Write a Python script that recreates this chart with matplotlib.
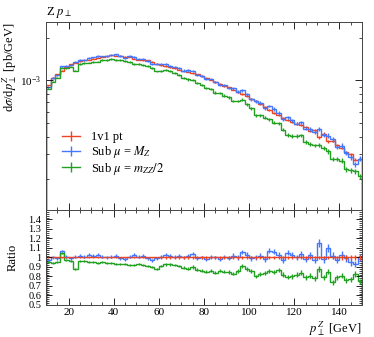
import numpy as np
import matplotlib.pyplot as plt
from matplotlib.ticker import MultipleLocator, LogLocator, NullFormatter, FixedLocator, FixedFormatter
from matplotlib.lines import Line2D

plt.rcParams['font.family'] = ['Liberation Serif', 'DejaVu Serif']
plt.rcParams['mathtext.fontset'] = 'stix'
plt.rcParams['font.size'] = 9

# binning: 2 GeV bins from 10 to 150 GeV
bin_edges = np.arange(10, 152, 2)
bin_centers = 0.5 * (bin_edges[:-1] + bin_edges[1:])

# 1v1 pt, dsigma/dpT in units of 1e-3 pb/GeV
ref_vals = [0.92, 1.04, 1.10, 1.17, 1.25, 1.30, 1.33, 1.36, 1.38, 1.40,
            1.42, 1.44, 1.46, 1.48, 1.50, 1.49, 1.49, 1.47, 1.46, 1.42,
            1.40, 1.39, 1.38, 1.35, 1.31, 1.28, 1.26, 1.24, 1.22, 1.19,
            1.17, 1.15, 1.12, 1.10, 1.07, 1.04, 1.01, 0.975, 0.945, 0.915,
            0.89, 0.86, 0.83, 0.80, 0.77, 0.74, 0.71, 0.68, 0.645, 0.615,
            0.59, 0.57, 0.545, 0.52, 0.505, 0.495, 0.485, 0.465, 0.44, 0.445,
            0.395, 0.42, 0.37, 0.375, 0.35, 0.335, 0.31, 0.30, 0.275, 0.28]

# ratios to 1v1 pt
ratio_mz = [0.97, 1.00, 0.99, 1.07, 1.01, 0.99, 1.01, 1.02, 1.01, 1.03,
            1.02, 1.03, 1.01, 1.00, 1.01, 1.02, 0.99, 0.98, 1.01, 1.03,
            1.01, 1.02, 0.99, 0.97, 0.99, 1.01, 1.03, 1.02, 1.01, 1.02,
            1.00, 1.02, 1.04, 0.99, 1.00, 0.98, 1.01, 1.00, 0.98, 1.01,
            0.99, 1.02, 1.00, 1.06, 1.03, 0.99, 1.00, 1.02, 0.98, 1.07,
            1.06, 1.03, 0.97, 1.05, 1.03, 1.00, 1.04, 0.98, 1.03, 0.97,
            1.15, 0.98, 1.10, 1.02, 0.97, 1.03, 0.99, 0.95, 0.93, 1.00]

ratio_mzz = [0.95, 0.94, 0.95, 1.05, 0.97, 0.96, 0.88, 0.96, 0.96, 0.95,
             0.95, 0.94, 0.95, 0.94, 0.94, 0.93, 0.93, 0.93, 0.92, 0.92,
             0.93, 0.92, 0.91, 0.90, 0.88, 0.91, 0.93, 0.93, 0.92, 0.91,
             0.89, 0.88, 0.90, 0.87, 0.86, 0.85, 0.86, 0.84, 0.86, 0.85,
             0.85, 0.83, 0.86, 0.91, 0.88, 0.86, 0.80, 0.83, 0.84, 0.86,
             0.85, 0.87, 0.82, 0.79, 0.80, 0.82, 0.84, 0.79, 0.81, 0.78,
             0.88, 0.79, 0.85, 0.74, 0.79, 0.81, 0.76, 0.77, 0.83, 0.75]

# relative uncertainties, per group of 5 bins
ref_err = np.repeat([0.008, 0.008, 0.009, 0.009, 0.010, 0.011, 0.012,
                     0.013, 0.014, 0.015, 0.016, 0.018, 0.020, 0.022], 5)
mz_err = np.repeat([0.012, 0.012, 0.013, 0.014, 0.015, 0.016, 0.018,
                    0.020, 0.022, 0.024, 0.027, 0.030, 0.034, 0.038], 5)
mzz_err = np.repeat([0.012, 0.012, 0.013, 0.014, 0.015, 0.016, 0.018,
                     0.020, 0.022, 0.024, 0.027, 0.030, 0.034, 0.038], 5)

labels = ['1v1 pt', r'Sub $\mu$ = $M_Z$', r'Sub $\mu$ = $m_{ZZ}/2$']
colors = ['#EE4422', '#4477FF', '#22A022']

ref = np.array(ref_vals) * 1e-3
r_mz = np.array(ratio_mz)
r_mzz = np.array(ratio_mzz)
series = [(ref, np.ones_like(ref), ref_err),
          (ref * r_mz, r_mz, mz_err),
          (ref * r_mzz, r_mzz, mzz_err)]

fig = plt.figure(figsize=(3.74, 3.37), dpi=100)
ax = fig.add_axes([0.123, 0.377, 0.845, 0.558])
rax = fig.add_axes([0.123, 0.095, 0.845, 0.282], sharex=ax)

for (vals, rat, err), col in zip(series, colors):
    ax.stairs(vals, bin_edges, color=col, lw=1.0)
    ax.errorbar(bin_centers, vals, yerr=vals * err, fmt='none', ecolor=col, elinewidth=1.0)

# ratio panel, reference drawn last so it sits on top
for idx in [1, 2, 0]:
    vals, rat, err = series[idx]
    col = colors[idx]
    rax.stairs(rat, bin_edges, color=col, lw=1.0)
    rax.errorbar(bin_centers, rat, yerr=rat * err, fmt='none', ecolor=col, elinewidth=1.0)

ax.set_yscale('log')
ax.set_xlim(10, 150)
ax.set_ylim(1.215e-4, 2.58e-3)
ax.yaxis.set_major_locator(LogLocator(base=10, subs=(1.0,)))
ax.yaxis.set_minor_locator(LogLocator(base=10, subs=np.arange(2, 10)))
ax.yaxis.set_minor_formatter(NullFormatter())
ax.set_ylabel(r'd$\sigma$/d$p_\perp^Z$ [pb/GeV]', loc='top')
ax.yaxis.set_label_coords(-0.085, 1.0)
ax.set_title(r'Z $p_\perp$', loc='left', fontsize=9, pad=5)
ax.tick_params(labelbottom=False)

rax.set_ylim(0.5, 1.5)
rax.yaxis.set_major_locator(FixedLocator([0.5, 0.6, 0.7, 0.8, 0.9, 1.0, 1.1, 1.2, 1.3, 1.4]))
rax.yaxis.set_major_formatter(FixedFormatter(['0.5', '0.6', '0.7', '0.8', '0.9', '1',
                                              '1.1', '1.2', '1.3', '1.4']))
rax.yaxis.set_minor_locator(MultipleLocator(0.02))
rax.xaxis.set_major_locator(MultipleLocator(20))
rax.xaxis.set_minor_locator(MultipleLocator(5))
rax.set_ylabel('Ratio')
rax.yaxis.set_label_coords(-0.085, 0.5)
rax.set_xlabel(r'$p_\perp^Z$ [GeV]', ha='right', va='top')
rax.xaxis.set_label_coords(1.0, -0.155)

for a in (ax, rax):
    a.tick_params(which='both', direction='in', top=True, right=True, labelsize=8)
    a.tick_params(which='major', length=5, width=0.6)
    a.tick_params(which='minor', length=2.5, width=0.5)
    for s in a.spines.values():
        s.set_linewidth(0.7)
        s.set_color('#444444')
rax.tick_params(axis='x', which='major', pad=2.5)
rax.tick_params(axis='y', which='major', length=4, labelsize=7.5)
rax.tick_params(axis='y', which='minor', length=2)

handles = [Line2D([], [], color=c, lw=1.0, marker='|', markersize=7, markeredgewidth=1.0)
           for c in colors]
ax.legend(handles, labels, loc='lower left', bbox_to_anchor=(0.035, 0.15), frameon=False,
          fontsize=9, handlelength=1.4, handletextpad=0.9, labelspacing=0.05, borderaxespad=0)

fig.savefig('out.png', dpi=100)
